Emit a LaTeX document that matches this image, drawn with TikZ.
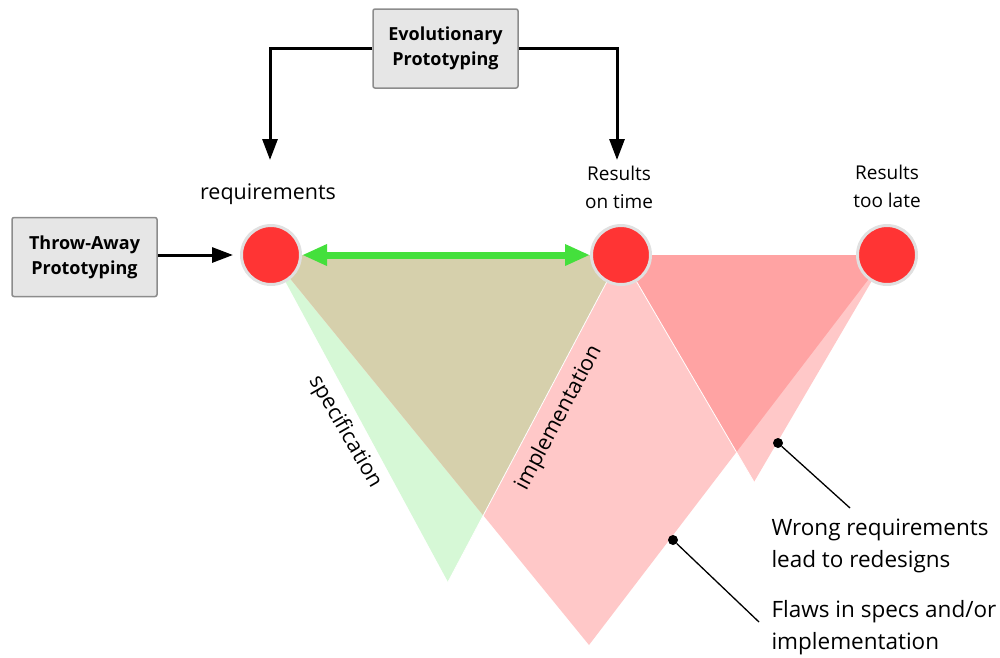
\documentclass[tikz,border=0pt]{standalone}
\usepackage{fontspec}
\setmainfont{Open Sans}
\usetikzlibrary{arrows.meta}
\definecolor{dotred}{HTML}{FF3434}
\definecolor{ringgray}{HTML}{E0E0E0}
\definecolor{boxfill}{HTML}{E6E6E6}
\definecolor{boxedge}{HTML}{8C8C8C}
\definecolor{specgreen}{HTML}{D6F8D6}
\definecolor{implpink}{HTML}{FFC8C8}
\definecolor{olive}{HTML}{D6D0AC}
\definecolor{redesign}{HTML}{FFA3A3}
\definecolor{arrowgreen}{HTML}{44E03C}
\begin{document}
\begin{tikzpicture}[x=1pt,y=-1pt,
    milestone/.style={circle, fill=dotred, draw=ringgray, line width=3pt, minimum size=59pt, inner sep=0pt},
    protobox/.style={draw=boxedge, fill=boxfill, line width=1.5pt, rounded corners=2pt, minimum width=145pt, minimum height=79pt, align=center, font=\bfseries\fontsize{18}{25}\selectfont},
    lbl/.style={align=center, font=\fontsize{19}{28}\selectfont},
    phase/.style={font=\fontsize{21.5}{26}\selectfont},
    note/.style={align=left, anchor=west, font=\fontsize{22.5}{32}\selectfont},
    feed/.style={-{Triangle[length=21pt,width=15pt]}, line width=3pt},
    pin/.style={circle, fill=black, minimum size=10pt, inner sep=0pt}]
\useasboundingbox (0,0) rectangle (1000,657);

\foreach \name/\x in {req/271,ontime/621,late/887}
    {
        \coordinate (\name c) at (\x,255);
    }
\coordinate (specTip) at (448,582);
\coordinate (implTip) at (589,645);
\coordinate (lateTip) at (754,482);

\fill[specgreen] (reqc) -- (ontimec) -- (specTip) -- cycle;
\fill[implpink] (reqc) -- (latec) -- (implTip) -- cycle;
\fill[implpink] (ontimec) -- (latec) -- (lateTip) -- cycle;
\begin{scope}
    \clip (reqc) -- (ontimec) -- (specTip) -- cycle;
    \fill[olive] (reqc) -- (latec) -- (implTip) -- cycle;
\end{scope}
\begin{scope}
    \clip (ontimec) -- (latec) -- (lateTip) -- cycle;
    \fill[redesign] (reqc) -- (latec) -- (implTip) -- cycle;
\end{scope}
\draw[white, line width=0.8pt] (ontimec) -- (specTip);
\draw[white, line width=0.8pt] (ontimec) -- (lateTip);

\node[phase, rotate=-60] (spec) at (345,432) {specification};
\node[phase, rotate=62] (impl) at (559,418) {implementation};

\foreach \name in {req,ontime,late}
    {
        \node[milestone] (\name) at (\name c) {};
    }

\draw[{Triangle[length=25pt,width=20pt]}-{Triangle[length=25pt,width=20pt]}, arrowgreen, line width=7pt] (req.east) -- (ontime.west);

\node[phase] (reqlabel) at (268,194) {requirements};
\node[lbl] (ontimelabel) at (619,187) {Results\\on time};
\node[lbl] (latelabel) at (887,186) {Results\\too late};

\node[protobox] (evo) at (445.5,48.5) {Evolutionary\\Prototyping};
\node[protobox] (throw) at (84.5,257) {Throw-Away\\Prototyping};

\coordinate (evoL) at (270,160);
\coordinate (evoR) at (617,160);
\draw[feed] (evo.west) -| (evoL);
\draw[feed] (evo.east) -| (evoR);
\draw[feed, shorten >=7pt] (throw.east |- req) -- (req.west);

\node[pin] (wrongpin) at (778,443) {};
\node[pin] (flawpin) at (673,540) {};
\node[note] (wrong) at (768,546) {Wrong requirements\\lead to redesigns};
\node[note] (flaws) at (768,628) {Flaws in specs and/or\\implementation};
\coordinate (wrongend) at (850,508);
\coordinate (flawend) at (759,622);
\draw[line width=1.3pt] (wrongpin) -- (wrongend);
\draw[line width=1.3pt] (flawpin) -- (flawend);
\end{tikzpicture}
\end{document}
